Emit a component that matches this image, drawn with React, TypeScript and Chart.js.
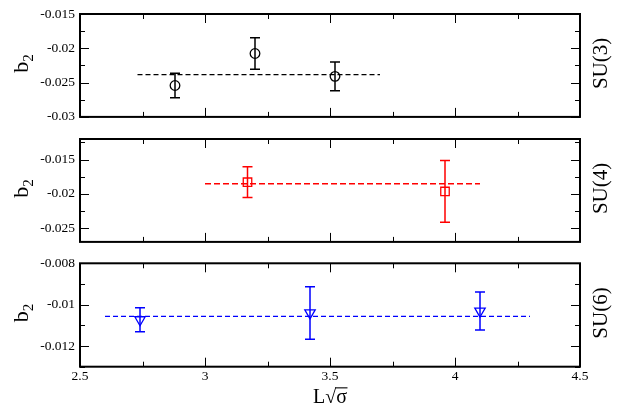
import React, { useEffect, useRef } from 'react';
import { Chart, registerables } from 'chart.js';

Chart.register(...registerables);

// ---------- shared x axis ----------
const xMin = 2.5;
const xMax = 4.5;
const xTicks = [2.5, 3, 3.5, 4, 4.5];
const xMinorStep = 0.25;
const xTitle = 'L√σ';

// ---------- SU(3) ----------
const su3Label = 'SU(3)';
const su3X = [2.88, 3.2, 3.52];
const su3Y = [-0.02542, -0.02076, -0.02409];
const su3Err = [0.00178, 0.0023, 0.00209];
const su3FitX = [2.73, 3.7];
const su3FitY = -0.02384;
const su3YMin = -0.03;
const su3YMax = -0.015;
const su3Ticks = [-0.03, -0.025, -0.02, -0.015];
const su3Minor = 0.0025;

// ---------- SU(4) ----------
const su4Label = 'SU(4)';
const su4X = [3.17, 3.96];
const su4Y = [-0.0183, -0.01965];
const su4Err = [0.00224, 0.0045];
const su4FitX = [3.0, 4.1];
const su4FitY = -0.01852;
const su4YMin = -0.027;
const su4YMax = -0.012;
const su4Ticks = [-0.025, -0.02, -0.015];
const su4Minor = 0.0025;

// ---------- SU(6) ----------
const su6Label = 'SU(6)';
const su6X = [2.74, 3.42, 4.1];
const su6Y = [-0.01073, -0.0104, -0.01031];
const su6Err = [0.00058, 0.00127, 0.00092];
const su6FitX = [2.6, 4.3];
const su6FitY = -0.01057;
const su6YMin = -0.013;
const su6YMax = -0.008;
const su6Ticks = [-0.012, -0.01, -0.008];
const su6Minor = 0.001;

const FONT = '"Liberation Serif", "Times New Roman", serif';

const fmt = (v: number) => String(+Number(v).toFixed(5));

const errorBarPlugin = {
  id: 'errbars',
  afterDatasetsDraw(chart: any) {
    const { ctx } = chart;
    const yScale = chart.scales.y;
    chart.data.datasets.forEach((ds: any, i: number) => {
      if (!ds.errors) return;
      const meta = chart.getDatasetMeta(i);
      ctx.save();
      ctx.strokeStyle = ds.borderColor;
      ctx.lineWidth = 1.5;
      ds.data.forEach((pt: any, j: number) => {
        const el = meta.data[j];
        const px = el.x;
        const yt = yScale.getPixelForValue(pt.y + ds.errors[j]);
        const yb = yScale.getPixelForValue(pt.y - ds.errors[j]);
        const cap = 5;
        ctx.beginPath();
        ctx.moveTo(px, yt);
        ctx.lineTo(px, yb);
        ctx.moveTo(px - cap, yt);
        ctx.lineTo(px + cap, yt);
        ctx.moveTo(px - cap, yb);
        ctx.lineTo(px + cap, yb);
        ctx.stroke();
      });
      ctx.restore();
    });
  },
};

const near = (v: number, arr: number[], tol: number) => arr.some((a) => Math.abs(a - v) < tol);

const framePlugin = {
  id: 'frame',
  afterDraw(chart: any) {
    const opts = chart.options.plugins.frame;
    const { ctx, chartArea } = chart;
    const { left, right, top, bottom } = chartArea;
    const x = chart.scales.x;
    const y = chart.scales.y;
    ctx.save();
    ctx.strokeStyle = '#000';
    ctx.lineWidth = 1;
    const majorLen = 9;
    const minorLen = 5;
    // x ticks (top and bottom, inward)
    const nx0 = Math.ceil(x.min / xMinorStep - 1e-6);
    const nx1 = Math.floor(x.max / xMinorStep + 1e-6);
    for (let n = nx0; n <= nx1; n++) {
      const v = n * xMinorStep;
      const len = near(v, xTicks, xMinorStep / 10) ? majorLen : minorLen;
      const px = Math.round(x.getPixelForValue(v)) + 0.5;
      ctx.beginPath();
      ctx.moveTo(px, bottom);
      ctx.lineTo(px, bottom - len);
      ctx.moveTo(px, top);
      ctx.lineTo(px, top + len);
      ctx.stroke();
    }
    // y ticks (left and right, inward)
    const step = opts.yMinor;
    const ny0 = Math.ceil(y.min / step - 1e-6);
    const ny1 = Math.floor(y.max / step + 1e-6);
    for (let n = ny0; n <= ny1; n++) {
      const v = n * step;
      const len = near(v, opts.yTicks, step / 10) ? majorLen : minorLen;
      const py = Math.round(y.getPixelForValue(v)) + 0.5;
      ctx.beginPath();
      ctx.moveTo(left, py);
      ctx.lineTo(left + len, py);
      ctx.moveTo(right, py);
      ctx.lineTo(right - len, py);
      ctx.stroke();
    }
    // frame
    ctx.lineWidth = 2;
    ctx.strokeRect(left, top, right - left, bottom - top);

    const cy = (top + bottom) / 2 - 2;
    // right label
    ctx.fillStyle = '#000';
    ctx.save();
    ctx.translate(607, cy);
    ctx.rotate(-Math.PI / 2);
    ctx.font = `21px ${FONT}`;
    ctx.textAlign = 'center';
    ctx.textBaseline = 'alphabetic';
    ctx.fillText(opts.label, 0, 0);
    ctx.restore();

    // left label b2
    ctx.save();
    ctx.translate(28, cy);
    ctx.rotate(-Math.PI / 2);
    ctx.textBaseline = 'alphabetic';
    ctx.textAlign = 'left';
    ctx.font = `22px ${FONT}`;
    const wb = ctx.measureText('b').width;
    ctx.font = `15px ${FONT}`;
    const w2 = ctx.measureText('2').width;
    const total = wb + w2;
    ctx.font = `22px ${FONT}`;
    ctx.fillText('b', -total / 2, 0);
    ctx.font = `15px ${FONT}`;
    ctx.fillText('2', -total / 2 + wb, 5);
    ctx.restore();

    // overline of the square root in the x title
    if (opts.bottom) {
      ctx.save();
      ctx.font = `20px ${FONT}`;
      ctx.textBaseline = 'middle';
      const W = ctx.measureText(xTitle).width;
      const wL = ctx.measureText('L').width;
      const mR = ctx.measureText('√');
      const cx = (x.left + x.right) / 2;
      const ty = x.bottom - 10;
      const x0 = cx - W / 2;
      const oy = ty - mR.actualBoundingBoxAscent + 0.6;
      ctx.strokeStyle = '#000';
      ctx.lineWidth = 1.1;
      ctx.beginPath();
      ctx.moveTo(x0 + wL + mR.width - 1, oy);
      ctx.lineTo(x0 + W + 0.5, oy);
      ctx.stroke();
      ctx.restore();
    }

    ctx.restore();
  },
};

type Panel = {
  label: string;
  xs: number[];
  ys: number[];
  errs: number[];
  fitX: number[];
  fitY: number;
  yMin: number;
  yMax: number;
  yTicks: number[];
  yMinor: number;
  color: string;
  pointStyle: string;
  radius: number;
  rotation: number;
  dash: number[];
  dashWidth: number;
  bottom: boolean;
  padTop: number;
  padBottom: number;
  xHeight: number;
};

function makeConfig(p: Panel): any {
  return {
    type: 'scatter',
    data: {
      datasets: [
        {
          type: 'line',
          data: p.fitX.map((xv) => ({ x: xv, y: p.fitY })),
          borderColor: p.color,
          borderWidth: p.dashWidth,
          borderDash: p.dash,
          pointRadius: 0,
          fill: false,
        },
        {
          type: 'scatter',
          data: p.xs.map((xv, i) => ({ x: xv, y: p.ys[i] })),
          errors: p.errs,
          borderColor: p.color,
          backgroundColor: 'rgba(0,0,0,0)',
          borderWidth: 1.3,
          pointStyle: p.pointStyle,
          pointRadius: p.radius,
          rotation: p.rotation,
        },
      ],
    },
    options: {
      animation: false,
      responsive: false,
      maintainAspectRatio: false,
      events: [],
      layout: { padding: { top: p.padTop, bottom: p.padBottom, left: 0, right: 40 } },
      plugins: {
        legend: { display: false },
        tooltip: { enabled: false },
        frame: { label: p.label, yTicks: p.yTicks, yMinor: p.yMinor, bottom: p.bottom },
      },
      scales: {
        x: {
          type: 'linear',
          min: xMin,
          max: xMax,
          afterBuildTicks: (s: any) => {
            s.ticks = xTicks.map((v) => ({ value: v }));
          },
          afterFit: (s: any) => {
            s.height = p.xHeight;
          },
          ticks: {
            display: p.bottom,
            autoSkip: false,
            maxRotation: 0,
            padding: 2,
            color: '#000',
            font: { family: FONT, size: 13.5 },
            callback: (v: any) => fmt(v),
          },
          grid: { display: false, drawTicks: false },
          border: { display: false },
          title: {
            display: p.bottom,
            text: xTitle,
            color: '#000',
            font: { family: FONT, size: 20, lineHeight: 1 },
            padding: 0,
          },
        },
        y: {
          type: 'linear',
          min: p.yMin,
          max: p.yMax,
          afterBuildTicks: (s: any) => {
            s.ticks = p.yTicks.map((v) => ({ value: v }));
          },
          afterFit: (s: any) => {
            s.width = 80;
          },
          ticks: {
            autoSkip: false,
            padding: 5,
            color: '#000',
            font: { family: FONT, size: 13.5 },
            callback: (v: any) => fmt(v),
          },
          grid: { display: false, drawTicks: false },
          border: { display: false },
        },
      },
    },
    plugins: [errorBarPlugin, framePlugin],
  };
}

const panels: { top: number; height: number; cfg: Panel }[] = [
  {
    top: 0,
    height: 130,
    cfg: {
      label: su3Label, xs: su3X, ys: su3Y, errs: su3Err, fitX: su3FitX, fitY: su3FitY,
      yMin: su3YMin, yMax: su3YMax, yTicks: su3Ticks, yMinor: su3Minor,
      color: '#000000', pointStyle: 'circle', radius: 4.8, rotation: 0,
      dash: [5, 3], dashWidth: 1.3, bottom: false, padTop: 14, padBottom: 13, xHeight: 0,
    },
  },
  {
    top: 125,
    height: 130,
    cfg: {
      label: su4Label, xs: su4X, ys: su4Y, errs: su4Err, fitX: su4FitX, fitY: su4FitY,
      yMin: su4YMin, yMax: su4YMax, yTicks: su4Ticks, yMinor: su4Minor,
      color: '#ff0000', pointStyle: 'rect', radius: 6, rotation: 0,
      dash: [6, 3], dashWidth: 1.6, bottom: false, padTop: 14, padBottom: 12.7, xHeight: 0,
    },
  },
  {
    top: 250,
    height: 158,
    cfg: {
      label: su6Label, xs: su6X, ys: su6Y, errs: su6Err, fitX: su6FitX, fitY: su6FitY,
      yMin: su6YMin, yMax: su6YMax, yTicks: su6Ticks, yMinor: su6Minor,
      color: '#0000ff', pointStyle: 'triangle', radius: 6, rotation: 180,
      dash: [5, 3], dashWidth: 1.3, bottom: true, padTop: 13.3, padBottom: 0, xHeight: 41.3,
    },
  },
];

function PanelChart({ top, height, cfg }: { top: number; height: number; cfg: Panel }) {
  const ref = useRef<HTMLCanvasElement | null>(null);
  useEffect(() => {
    if (!ref.current) return;
    const chart = new Chart(ref.current, makeConfig(cfg));
    return () => chart.destroy();
  }, []);
  return (
    <canvas
      ref={ref}
      width={620}
      height={height}
      style={{ position: 'absolute', left: 0, top, width: 620, height }}
    />
  );
}

export default function App() {
  return (
    <div style={{ position: 'absolute', left: 0, top: 0, width: 620, height: 408, background: '#fff' }}>
      {panels.map((p, i) => (
        <PanelChart key={i} top={p.top} height={p.height} cfg={p.cfg} />
      ))}
    </div>
  );
}
